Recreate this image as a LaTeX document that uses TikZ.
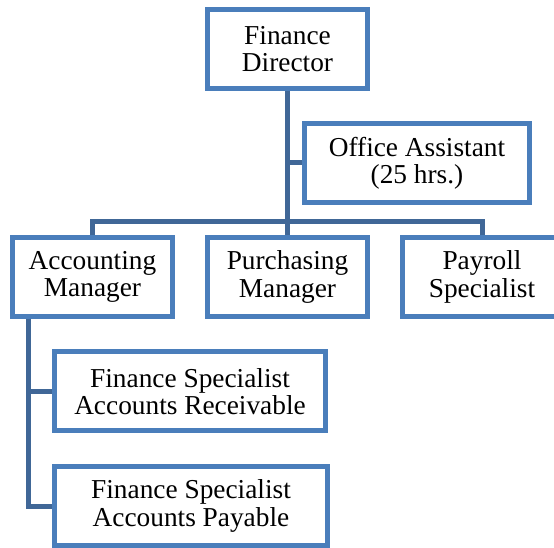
\documentclass[tikz,border=0pt]{standalone}
\usepackage{fontspec}
\setmainfont{Liberation Serif}
\usepackage{tikz}

\definecolor{boxblue}{RGB}{74,126,187}
\definecolor{linkblue}{RGB}{64,103,151}

\begin{document}
\begin{tikzpicture}[x=0.75pt, y=0.75pt,
    post/.style={draw=boxblue, line width=3.75pt, fill=white, align=center,
        minimum width=160*0.75pt, minimum height=79*0.75pt, inner sep=0pt,
        font=\fontsize{20.5}{20.5}\selectfont},
    link/.style={draw=linkblue, line width=3.75pt}]
    \useasboundingbox (0,0) rectangle (554,547);
    % top
    \node[post] (fd) at (287.5,498) {Finance\\Director};
    \node[post, minimum width=225*0.75pt] (oa) at (417,384) {Office Assistant\\(25 hrs.)};
    % managers
    \node[post] (am) at (92.5,270) {Accounting\\Manager};
    \node[post] (pm) at (287.5,270) {Purchasing\\Manager};
    \node[post] (ps) at (482,270) {Payroll\\Specialist};
    % specialists
    \node[post, minimum width=271*0.75pt] (ar) at (190,155.5) {Finance Specialist\\Accounts Receivable};
    \node[post, minimum width=273*0.75pt] (ap) at (191,41) {Finance Specialist\\Accounts Payable};
    \coordinate (bus) at (0,325);
    \coordinate (trunk) at (28,0);
    \draw[link] (fd.south) -- (pm.north);
    \draw[link] (fd.south |- oa.west) -- (oa.west);
    \draw[link] (am.north) |- (bus -| pm.north) -| (ps.north);
    \draw[link] (am.south -| trunk) |- (ar.west);
    \draw[link] (am.south -| trunk) |- (ap.west);
\end{tikzpicture}
\end{document}
